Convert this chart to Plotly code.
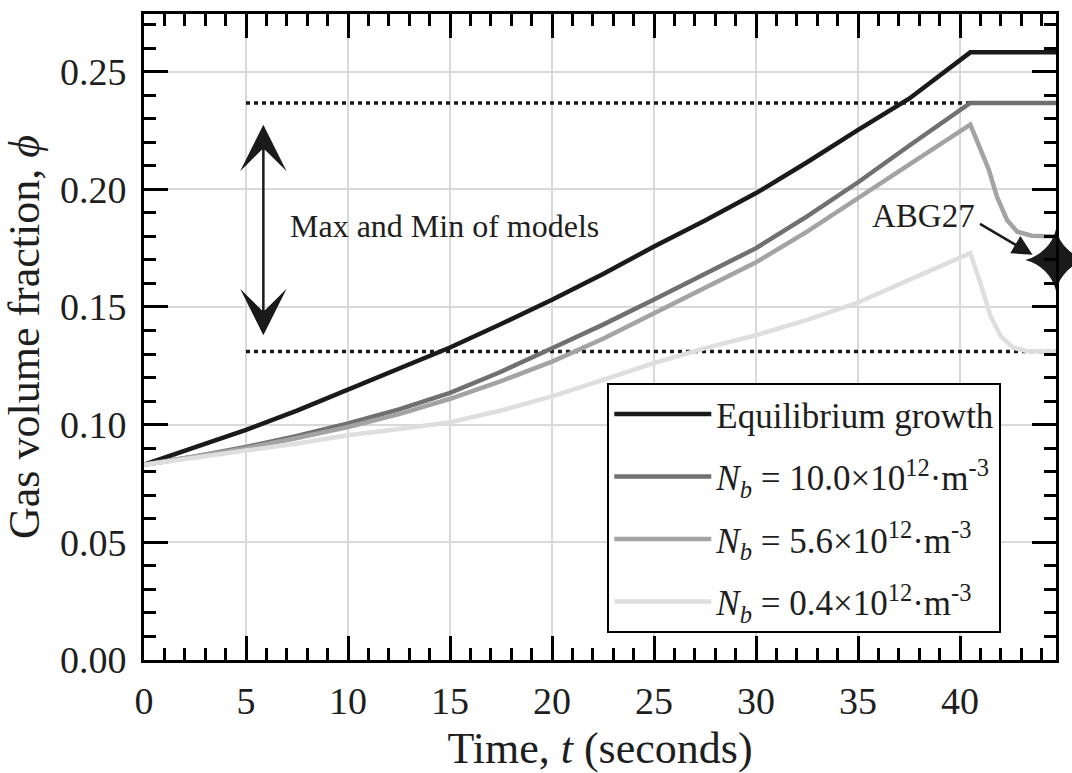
import plotly.graph_objects as go

# ---- data ----
t_eq = [0, 2.5, 5, 7.5, 10, 12.5, 15, 17.5, 20, 22.5, 25, 27.5, 30, 32.5, 35, 37.5, 40.5, 44.7]
phi_eq = [0.0830, 0.0902, 0.0978, 0.1060, 0.1148, 0.1236, 0.1328, 0.1428, 0.1531, 0.1640,
          0.1757, 0.1868, 0.1984, 0.2115, 0.2253, 0.2385, 0.2582, 0.2582]

t_n10 = [0, 2.5, 5, 7.5, 10, 12.5, 15, 17.5, 20, 22.5, 25, 27.5, 30, 32.5, 35, 37.5, 40.5, 44.7]
phi_n10 = [0.0830, 0.0865, 0.0905, 0.0952, 0.1005, 0.1065, 0.1135, 0.1225, 0.1325, 0.1425,
           0.1532, 0.1640, 0.1750, 0.1885, 0.2030, 0.2185, 0.2367, 0.2367]

t_n56 = [0, 2.5, 5, 7.5, 10, 12.5, 15, 17.5, 20, 22.5, 25, 27.5, 30, 32.5, 35, 37.5, 40.5,
         41.4, 41.8, 42.3, 42.8, 43.5, 44.7]
phi_n56 = [0.0830, 0.0863, 0.0900, 0.0943, 0.0990, 0.1045, 0.1110, 0.1185, 0.1268, 0.1365,
           0.1472, 0.1580, 0.1690, 0.1820, 0.1960, 0.2105, 0.2275,
           0.2085, 0.1970, 0.1870, 0.1820, 0.1803, 0.1800]

t_n04 = [0, 2.5, 5, 7.5, 10, 12.5, 15, 17.5, 20, 22.5, 25, 27.5, 30, 32.5, 35, 37.5, 40.5,
         41.0, 41.5, 42.0, 42.6, 43.3, 44.7]
phi_n04 = [0.0830, 0.0858, 0.0890, 0.0920, 0.0955, 0.0982, 0.1010, 0.1060, 0.1120, 0.1190,
           0.1262, 0.1325, 0.1380, 0.1445, 0.1519, 0.1615, 0.1729,
           0.1600, 0.1460, 0.1375, 0.1327, 0.1312, 0.1310]

bound_t = [5, 44.7]
max_model = [0.2367, 0.2367]
min_model = [0.1311, 0.1311]

abg27_t = [44.7]
abg27_phi = [0.170]

labels = [
    "Equilibrium growth",
    "<i>N</i><sub><i>b</i></sub> = 10.0×10<sup>12</sup>·m<sup>-3</sup>",
    "<i>N</i><sub><i>b</i></sub> = 5.6×10<sup>12</sup>·m<sup>-3</sup>",
    "<i>N</i><sub><i>b</i></sub> = 0.4×10<sup>12</sup>·m<sup>-3</sup>",
]
colors = ["#1a1a1a", "#707070", "#a3a3a3", "#dedede"]

FONT = "Liberation Serif, Times New Roman, serif"
TXT = "#1e1e1e"

fig = go.Figure()

# dotted bounds
for yv in (max_model, min_model):
    fig.add_trace(go.Scatter(x=bound_t, y=yv, mode="lines", showlegend=False,
                             line=dict(color="#1a1a1a", width=3.5, dash="4px,4px"),
                             hoverinfo="skip"))

series = [(t_eq, phi_eq), (t_n10, phi_n10), (t_n56, phi_n56), (t_n04, phi_n04)]
for i, ((tt, pp), lab, col) in enumerate(zip(series, labels, colors)):
    fig.add_trace(go.Scatter(x=tt, y=pp, mode="lines", name=lab, legendgroup=f"g{i}",
                             line=dict(color=col, width=4.5)))

# ABG27 marker
fig.add_trace(go.Scatter(x=abg27_t, y=abg27_phi, mode="markers", showlegend=False,
                         cliponaxis=False,
                         marker=dict(symbol="star-diamond", size=44, color="#1a1a1a",
                                     line=dict(width=0))))

axis_common = dict(
    showline=True, linecolor="black", linewidth=3, mirror="ticks",
    ticks="inside", ticklen=24, tickwidth=2.5, tickcolor="black",
    showgrid=True, gridcolor="#d9d9d9", gridwidth=1.5,
    zeroline=False, automargin=False,
    tickfont=dict(family=FONT, size=38, color=TXT),
)

fig.update_xaxes(range=[0, 44.7], dtick=5, tick0=0, ticklabelstandoff=5,
                 minor=dict(dtick=1, ticks="inside", ticklen=12, tickwidth=2.5,
                            tickcolor="black", showgrid=False),
                 title=dict(text="Time, <i>t</i> (seconds)",
                            font=dict(family=FONT, size=44, color=TXT), standoff=14),
                 **axis_common)
fig.update_yaxes(range=[0, 0.2745], dtick=0.05, tick0=0, tickformat=".2f",
                 ticklabelstandoff=7,
                 minor=dict(dtick=0.01, ticks="inside", ticklen=12, tickwidth=2.5,
                            tickcolor="black", showgrid=False),
                 title=dict(text="Gas volume fraction, <i>ϕ</i>",
                            font=dict(family=FONT, size=44, color=TXT), standoff=8),
                 **axis_common)

# double arrow (Max and Min of models)
fig.add_annotation(x=5.85, y=0.2274, ax=5.85, ay=0.1374, xref="x", yref="y",
                   axref="x", ayref="y", text="", showarrow=True,
                   arrowside="end+start", arrowhead=3, startarrowhead=3,
                   arrowsize=3.1, startarrowsize=3.1, arrowwidth=2.5,
                   arrowcolor="#1a1a1a")
fig.add_annotation(x=7.05, y=0.1845, xref="x", yref="y", text="Max and Min of models",
                   showarrow=False, xanchor="left", yanchor="middle",
                   font=dict(family=FONT, size=32, color=TXT))

# ABG27 label + arrow
fig.add_annotation(x=38.2, y=0.1885, xref="x", yref="y", text="ABG27",
                   showarrow=False, xanchor="center", yanchor="middle",
                   font=dict(family=FONT, size=33, color=TXT))
fig.add_annotation(x=43.55, y=0.1722, ax=40.9, ay=0.1857, xref="x", yref="y",
                   axref="x", ayref="y", text="", showarrow=True,
                   arrowhead=2, arrowsize=1.6, arrowwidth=2.5, arrowcolor="#1a1a1a")

fig.update_layout(
    width=1072, height=773,
    margin=dict(l=144, r=16, t=14, b=113),
    plot_bgcolor="white", paper_bgcolor="white",
    font=dict(family=FONT, color=TXT),
    legend=dict(x=0.508, y=0.429, xanchor="left", yanchor="top",
                bgcolor="white", bordercolor="black", borderwidth=2,
                font=dict(family=FONT, size=35, color=TXT),
                itemwidth=97, tracegroupgap=14, traceorder="grouped"),
    showlegend=True,
)

fig.write_html("out.html")
